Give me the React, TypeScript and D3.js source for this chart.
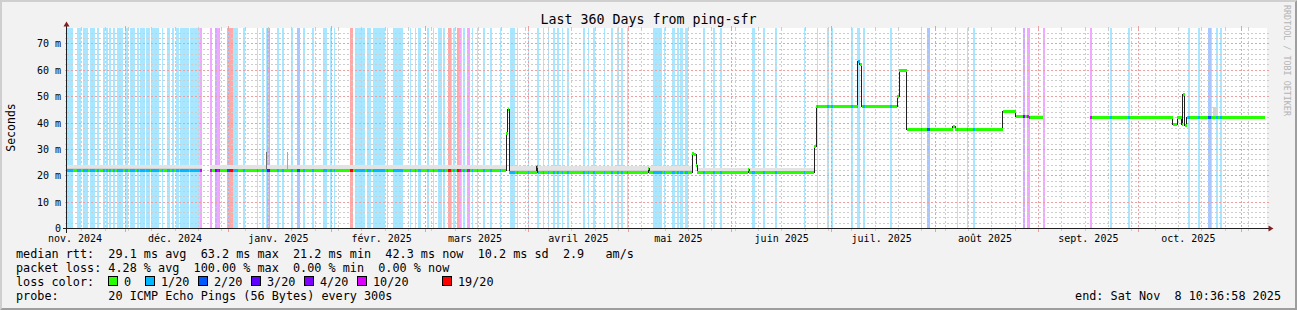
import React from 'react';
import * as d3 from 'd3';

// ---------- data ----------
const END_TIME = Date.UTC(2025, 10, 8, 10, 36, 58); // local wall-clock time
const SPAN_DAYS = 360;
const DAY_MS = 86400000;
const START_TIME = END_TIME - SPAN_DAYS * DAY_MS;
const Y_MAX = 75.84; // ms

const TITLE = 'Last 360 Days from ping-sfr';
const Y_LABEL = 'Seconds';
const Y_TICK_VALUES = [0, 10, 20, 30, 40, 50, 60, 70];
const Y_TICK_LABELS = ['0', '10 m', '20 m', '30 m', '40 m', '50 m', '60 m', '70 m'];
const Y_MINOR_STEP = 2;
const MONTH_LABELS = [
  'nov. 2024', 'déc. 2024', 'janv. 2025', 'févr. 2025', 'mars 2025', 'avril 2025',
  'mai 2025', 'juin 2025', 'juil. 2025', 'août 2025', 'sept. 2025', 'oct. 2025',
];

const LOSS_THRESHOLDS = [0, 1, 2, 3, 4, 10, 19];
const LOSS_COLORS = ['#26ff00', '#00b8ff', '#0059ff', '#5e00ff', '#7e00ff', '#dd00ff', '#ff0000'];
const LOSS_LABELS = ['0', '1/20', '2/20', '3/20', '4/20', '10/20', '19/20'];

// [start day, end day, lost pings out of 20]
const LOSS_BANDS: [number, number, number][] = [
  [0.1, 2.0, 1], [3.1, 4.4, 1], [4.9, 6.5, 1], [7.0, 8.6, 1], [9.2, 9.7, 1],
  [11.0, 11.6, 1], [11.9, 12.4, 1], [12.8, 13.4, 1], [13.9, 14.5, 1], [15.1, 16.9, 1],
  [17.5, 18.4, 1], [19.0, 20.6, 1], [21.1, 21.7, 1], [22.1, 23.5, 1], [23.9, 25.0, 1],
  [25.4, 27.8, 1], [28.6, 29.0, 1], [30.1, 31.0, 1], [31.6, 32.3, 1], [32.9, 33.8, 1],
  [34.1, 36.7, 1], [37.0, 40.0, 1], [40.0, 40.7, 10], [43.0, 43.6, 10], [44.5, 45.2, 4],
  [45.2, 45.6, 10], [45.6, 46.1, 19], [48.2, 48.7, 2], [48.8, 50.0, 19], [50.0, 51.5, 1],
  [53.0, 53.5, 1], [57.1, 57.5, 1], [58.6, 59.3, 1], [59.8, 60.1, 1], [60.1, 61.1, 3],
  [63.2, 63.6, 1], [64.7, 65.2, 1], [67.3, 67.9, 1], [69.2, 70.0, 2], [71.0, 71.5, 1],
  [73.6, 74.3, 1], [77.0, 78.2, 1], [79.1, 79.6, 1], [80.2, 80.6, 1], [85.0, 86.0, 19],
  [86.5, 89.6, 1], [90.1, 91.3, 1], [92.0, 95.5, 1], [96.1, 96.5, 1], [98.0, 101.0, 1],
  [103.0, 103.4, 1], [104.5, 104.9, 1], [105.4, 106.3, 1], [108.1, 108.8, 1], [110.0, 110.3, 1],
  [111.4, 112.7, 1], [113.0, 113.5, 1], [114.4, 115.3, 19], [115.3, 115.7, 1], [116.0, 116.5, 1],
  [117.2, 117.8, 19], [117.8, 118.2, 10], [118.2, 118.6, 1], [119.0, 119.6, 1], [120.2, 121.1, 10],
  [121.6, 121.9, 1], [123.2, 123.5, 1], [125.0, 125.6, 1], [127.0, 127.6, 1], [130.0, 130.4, 1],
  [133.0, 134.5, 1], [135.1, 135.5, 1], [138.4, 138.8, 1], [141.2, 141.7, 1], [143.0, 143.3, 1],
  [144.4, 144.8, 1], [145.9, 146.5, 1], [147.2, 147.7, 1], [148.6, 149.0, 1], [150.2, 150.7, 1],
  [155.0, 155.5, 1], [156.4, 156.8, 1], [158.0, 158.5, 1], [161.2, 161.6, 1], [163.4, 163.9, 1],
  [165.2, 165.7, 1], [166.4, 166.9, 1], [168.1, 168.5, 1], [176.0, 178.7, 1], [179.1, 179.6, 1],
  [181.6, 182.5, 1], [183.2, 183.8, 1], [184.1, 185.0, 1], [185.5, 186.5, 1], [191.0, 191.6, 1],
  [194.0, 194.6, 1], [196.0, 196.7, 1], [205.6, 206.6, 1], [209.0, 209.6, 1], [212.6, 213.2, 1],
  [221.2, 221.6, 1], [225.1, 225.5, 1], [228.2, 228.6, 1], [229.4, 229.9, 1], [235.4, 236.0, 1],
  [237.2, 238.1, 1], [239.0, 239.6, 1], [247.0, 247.7, 1], [256.3, 256.7, 1], [258.2, 259.1, 2],
  [267.1, 267.5, 1], [270.1, 270.5, 1], [272.0, 272.6, 1], [287.0, 287.6, 4], [288.1, 289.1, 10],
  [293.0, 293.6, 10], [307.0, 307.7, 10], [313.0, 313.6, 1], [318.4, 319.1, 1], [336.4, 337.1, 1],
  [339.4, 340.1, 1], [342.5, 343.4, 2], [343.4, 343.7, 1], [344.9, 345.5, 1], [346.0, 346.7, 1],
];

// median rtt steps: [start day, ms] (value holds until next step, null = no data)
const MEDIAN_STEPS: [number, number | null][] = [
  [0, 22.0], [40.7, null], [42.9, 22.0], [131.9, 36.0], [132.3, 45.2], [132.8, 21.4],
  [141.0, 23.5], [141.3, 21.4], [174.5, 22.7], [174.8, 21.4], [187.7, 28.4], [188.3, 28.0],
  [188.9, 24.0], [189.2, 21.3], [204.5, 22.5], [204.8, 21.3], [224.3, 31.0], [224.9, 46.4],
  [237.3, 63.3], [237.9, 62.0], [238.5, 46.4], [249.2, 50.2], [249.8, 60.1], [252.0, 37.6],
  [265.8, 38.5], [266.6, 37.6], [280.8, 44.5], [284.8, 42.6], [288.8, 42.2], [293.0, null],
  [307.0, 42.1], [331.8, 39.3], [333.2, 42.1], [334.5, 39.3], [334.8, 50.8], [335.4, 39.0],
  [336.1, 42.1], [359.6, null],
];

// smoke (ping spread): [start day, end day, low ms, dense-top ms, high ms]
const SMOKE: [number, number, number, number, number][] = [
  [0, 40.7, 22.0, 22.8, 24.2],
  [42.9, 131.9, 22.0, 22.7, 23.9],
  [132.8, 187.7, 21.4, 22.1, 23.6],
  [189.2, 224.3, 21.3, 21.9, 23.0],
  [224.9, 237.3, 46.4, 46.8, 47.0],
  [238.5, 249.2, 46.4, 46.8, 47.0],
  [249.8, 252.0, 60.1, 60.4, 60.6],
  [252.0, 280.8, 37.6, 38.0, 38.2],
  [280.8, 284.8, 44.5, 44.8, 45.0],
  [284.8, 293.0, 42.2, 42.6, 42.9],
  [307.0, 331.8, 42.1, 42.5, 42.7],
  [336.1, 359.6, 42.1, 42.5, 42.7],
];
// isolated smoke spikes: [start day, end day, low ms, high ms, grey]
const SMOKE_SPIKES: [number, number, number, number, string][] = [
  [59.7, 60.2, 22.5, 28.9, '#707070'],
  [66.2, 66.5, 22.5, 28.9, '#a8a8a8'],
  [343.9, 345.2, 42.5, 46.0, '#d4d4d4'],
];

const LEGEND_RTT = 'median rtt:  29.1 ms avg  63.2 ms max  21.2 ms min  42.3 ms now  10.2 ms sd  2.9   am/s';
const LEGEND_LOSS = 'packet loss: 4.28 % avg  100.00 % max  0.00 % min  0.00 % now';
const LEGEND_LOSSCOLOR = 'loss color:';
const LEGEND_PROBE = 'probe:       20 ICMP Echo Pings (56 Bytes) every 300s';
const END_LABEL = 'end: Sat Nov  8 10:36:58 2025';
const WATERMARK = 'RRDTOOL / TOBI OETIKER';

// ---------- layout ----------
const W = 1297;
const H = 310;
const X0 = 66.5;
const XSIZE = 1200;
const Y0 = 228.5;
const YSIZE = 200;
const MONO = '"DejaVu Sans Mono", monospace';
const LEGEND_BOX_X = [108, 145, 198, 251, 304, 357, 442];

const C = {
  back: '#f2f2f2',
  canvas: '#ffffff',
  shadeA: '#cfcfcf',
  shadeB: '#9e9e9e',
  grid: '#cdcdcd',
  mgrid: '#eaa0a0',
  axis: '#1f1f1f',
  arrow: '#801f1f',
  font: '#000000',
};

const dayDate = (d: number) => new Date(START_TIME + d * DAY_MS);
const lossColor = (n: number) => LOSS_COLORS[LOSS_THRESHOLDS.indexOf(n)];

export default function App() {
  const x = d3.scaleUtc().domain([new Date(START_TIME), new Date(END_TIME)]).range([X0, X0 + XSIZE]);
  const y = d3.scaleLinear().domain([0, Y_MAX]).range([Y0, Y0 - YSIZE]);
  const px = (v: number) => Math.round(v - 0.5) + 0.5;
  const xd = (d: number) => x(dayDate(d));

  const top = Y0 - YSIZE;

  // grids
  const weekLines = d3.utcMonday.range(new Date(START_TIME), new Date(END_TIME));
  const monthLines = d3.utcMonth.range(new Date(START_TIME), new Date(END_TIME));
  const labelMonths = d3.utcMonth
    .range(d3.utcMonth.floor(new Date(START_TIME)), new Date(END_TIME))
    .filter((m) => m.getTime() + 15 * DAY_MS <= END_TIME - 15 * DAY_MS);
  const minorY = d3.range(Y_MINOR_STEP, Y_MAX, Y_MINOR_STEP).filter((v) => v % 10 !== 0);
  const majorY = Y_TICK_VALUES.filter((v) => v > 0);

  // median segments
  const segs: { d0: number; d1: number; v: number }[] = [];
  for (let i = 0; i < MEDIAN_STEPS.length - 1; i++) {
    const [d0, v] = MEDIAN_STEPS[i];
    const d1 = MEDIAN_STEPS[i + 1][0];
    if (v !== null) segs.push({ d0, d1, v });
  }
  const linePts: ([number, number] | null)[] = [];
  for (let i = 0; i < MEDIAN_STEPS.length - 1; i++) {
    const [d0, v] = MEDIAN_STEPS[i];
    const d1 = MEDIAN_STEPS[i + 1][0];
    if (v === null) {
      linePts.push(null);
      continue;
    }
    linePts.push([xd(d0), px(y(v))]);
    linePts.push([xd(d1), px(y(v))]);
  }
  const medianLine = d3
    .line<[number, number] | null>()
    .defined((p) => p !== null)
    .x((p) => (p as [number, number])[0])
    .y((p) => (p as [number, number])[1])(linePts);

  const colored: { x0: number; x1: number; yy: number; c: string }[] = [];
  segs.forEach((s) => {
    colored.push({ x0: xd(s.d0), x1: xd(s.d1), yy: px(y(s.v)), c: LOSS_COLORS[0] });
  });
  LOSS_BANDS.forEach(([b0, b1, n]) => {
    segs.forEach((s) => {
      const a = Math.max(b0, s.d0);
      const b = Math.min(b1, s.d1);
      if (b > a) colored.push({ x0: xd(a), x1: xd(b), yy: px(y(s.v)), c: lossColor(n) });
    });
  });

  const legendY = [258, 272, 286, 300];
  const legendFont = 11.8;
  const pre = { whiteSpace: 'pre' as const };

  return (
    <>
      <style>{`body{margin:0;}`}</style>
      <svg width={W} height={H} viewBox={`0 0 ${W} ${H}`} style={{ display: 'block' }}>
        {/* background + frame */}
        <rect x={0} y={0} width={W} height={H} fill={C.back} />
        <polygon points={`0,0 ${W},0 ${W - 2},2 2,2 2,${H - 2} 0,${H}`} fill={C.shadeA} />
        <polygon points={`0,${H} ${W},${H} ${W},0 ${W - 2},2 ${W - 2},${H - 2} 2,${H - 2}`} fill={C.shadeB} />
        <rect x={X0 - 0.5} y={top - 0.5} width={XSIZE + 1} height={YSIZE + 1} fill={C.canvas} />

        {/* title */}
        <text x={W / 2} y={24} textAnchor="middle" fontFamily={MONO} fontSize={13.3} fill={C.font}>
          {TITLE}
        </text>
        {/* watermark */}
        <text transform={`translate(1284,5) rotate(90)`} fontFamily={MONO} fontSize={8.4} fill="#b4b4b4">
          {WATERMARK}
        </text>
        {/* y label */}
        <text
          transform={`translate(15,${(Y0 + top) / 2 - 1}) rotate(-90)`}
          textAnchor="middle"
          fontFamily={MONO}
          fontSize={11.5}
          fill={C.font}
        >
          {Y_LABEL}
        </text>

        {/* loss background bands */}
        <g shapeRendering="crispEdges">
          {LOSS_BANDS.map(([d0, d1, n], i) => {
            const a = Math.round(xd(d0));
            const b = Math.max(a + 1, Math.round(xd(d1)));
            return (
              <rect key={i} x={a} y={top - 0.5} width={b - a} height={YSIZE} fill={lossColor(n)} fillOpacity={0.34} />
            );
          })}
        </g>

        {/* grid */}
        <g shapeRendering="crispEdges" strokeWidth={1}>
          {minorY.map((v) => (
            <g key={'my' + v}>
              <line x1={X0} x2={X0 + XSIZE} y1={px(y(v))} y2={px(y(v))} stroke={C.grid} strokeDasharray="2,2" />
              <line x1={X0 - 2} x2={X0} y1={px(y(v))} y2={px(y(v))} stroke={C.grid} />
              <line x1={X0 + XSIZE} x2={X0 + XSIZE + 2} y1={px(y(v))} y2={px(y(v))} stroke={C.grid} />
            </g>
          ))}
          {weekLines.map((t, i) => (
            <g key={'wk' + i}>
              <line x1={px(x(t))} x2={px(x(t))} y1={top} y2={Y0} stroke={C.grid} strokeDasharray="2,2" />
              <line x1={px(x(t))} x2={px(x(t))} y1={Y0} y2={Y0 + 2} stroke={C.grid} />
              <line x1={px(x(t))} x2={px(x(t))} y1={top - 2} y2={top} stroke={C.grid} />
            </g>
          ))}
          {majorY.map((v) => (
            <g key={'My' + v}>
              <line x1={X0} x2={X0 + XSIZE} y1={px(y(v))} y2={px(y(v))} stroke={C.mgrid} strokeDasharray="2,2" />
              <line x1={X0 - 2} x2={X0} y1={px(y(v))} y2={px(y(v))} stroke={C.mgrid} />
              <line x1={X0 + XSIZE} x2={X0 + XSIZE + 2} y1={px(y(v))} y2={px(y(v))} stroke={C.mgrid} />
            </g>
          ))}
          {monthLines.map((t, i) => (
            <g key={'mo' + i}>
              <line x1={px(x(t))} x2={px(x(t))} y1={top} y2={Y0} stroke={C.mgrid} strokeDasharray="2,2" />
              <line x1={px(x(t))} x2={px(x(t))} y1={Y0} y2={Y0 + 3} stroke={C.mgrid} />
              <line x1={px(x(t))} x2={px(x(t))} y1={top - 3} y2={top} stroke={C.mgrid} />
            </g>
          ))}
        </g>

        {/* smoke */}
        <g shapeRendering="crispEdges">
          {SMOKE.map(([d0, d1, lo, mid, hi], i) => (
            <g key={'sm' + i}>
              <rect x={xd(d0)} width={xd(d1) - xd(d0)} y={y(hi)} height={y(lo) - y(hi)} fill="#e3e3e3" />
              <rect x={xd(d0)} width={xd(d1) - xd(d0)} y={y(mid)} height={y(lo) - y(mid)} fill="#d2d2d2" />
            </g>
          ))}
          {SMOKE_SPIKES.map(([d0, d1, lo, hi, c], i) => (
            <rect key={'sp' + i} x={xd(d0)} width={Math.max(1, xd(d1) - xd(d0))} y={y(hi)} height={y(lo) - y(hi)} fill={c} />
          ))}
        </g>

        {/* median */}
        <path d={medianLine || ''} fill="none" stroke="#202020" strokeWidth={1} shapeRendering="crispEdges" />
        <g shapeRendering="crispEdges">
          {colored.map((s, i) => (
            <rect key={'md' + i} x={s.x0} width={s.x1 - s.x0} y={s.yy - 1.5} height={3} fill={s.c} />
          ))}
        </g>

        {/* axes */}
        <g shapeRendering="crispEdges">
          <line x1={X0 - 4} x2={X0 + XSIZE + 4} y1={Y0} y2={Y0} stroke={C.axis} />
          <line x1={X0} x2={X0} y1={Y0 + 4} y2={top - 4} stroke={C.axis} />
        </g>
        <polygon
          points={`${X0 + XSIZE + 2},${Y0 - 3} ${X0 + XSIZE + 2},${Y0 + 3} ${X0 + XSIZE + 7},${Y0}`}
          fill={C.arrow}
        />
        <polygon points={`${X0 - 3},${top - 2} ${X0 + 3},${top - 2} ${X0},${top - 7}`} fill={C.arrow} />

        {/* y tick labels */}
        {Y_TICK_VALUES.map((v, i) => (
          <text key={'yl' + v} x={61} y={px(y(v)) + 3.6} textAnchor="end" fontFamily={MONO} fontSize={10} fill={C.font}>
            {Y_TICK_LABELS[i]}
          </text>
        ))}
        {/* x month labels */}
        {labelMonths.map((m, i) => (
          <text
            key={'xl' + i}
            x={x(new Date(m.getTime() + 15 * DAY_MS))}
            y={242}
            textAnchor="middle"
            fontFamily={MONO}
            fontSize={10}
            fill={C.font}
          >
            {MONTH_LABELS[i]}
          </text>
        ))}

        {/* legend */}
        <g fontFamily={MONO} fontSize={legendFont} fill={C.font}>
          <text x={16} y={legendY[0]} xmlSpace="preserve" style={pre}>{LEGEND_RTT}</text>
          <text x={16} y={legendY[1]} xmlSpace="preserve" style={pre}>{LEGEND_LOSS}</text>
          <text x={16} y={legendY[2]} xmlSpace="preserve" style={pre}>{LEGEND_LOSSCOLOR}</text>
          {LOSS_LABELS.map((l, i) => (
            <g key={'lg' + i}>
              <rect
                x={LEGEND_BOX_X[i] + 0.5}
                y={legendY[2] - 9.5}
                width={9}
                height={9}
                fill={LOSS_COLORS[i]}
                stroke="#000"
                strokeWidth={1}
              />
              <text x={LEGEND_BOX_X[i] + 16} y={legendY[2]}>{l}</text>
            </g>
          ))}
          <text x={16} y={legendY[3]} xmlSpace="preserve" style={pre}>{LEGEND_PROBE}</text>
          <text x={1281} y={legendY[3]} textAnchor="end" xmlSpace="preserve" style={pre}>{END_LABEL}</text>
        </g>
      </svg>
    </>
  );
}
